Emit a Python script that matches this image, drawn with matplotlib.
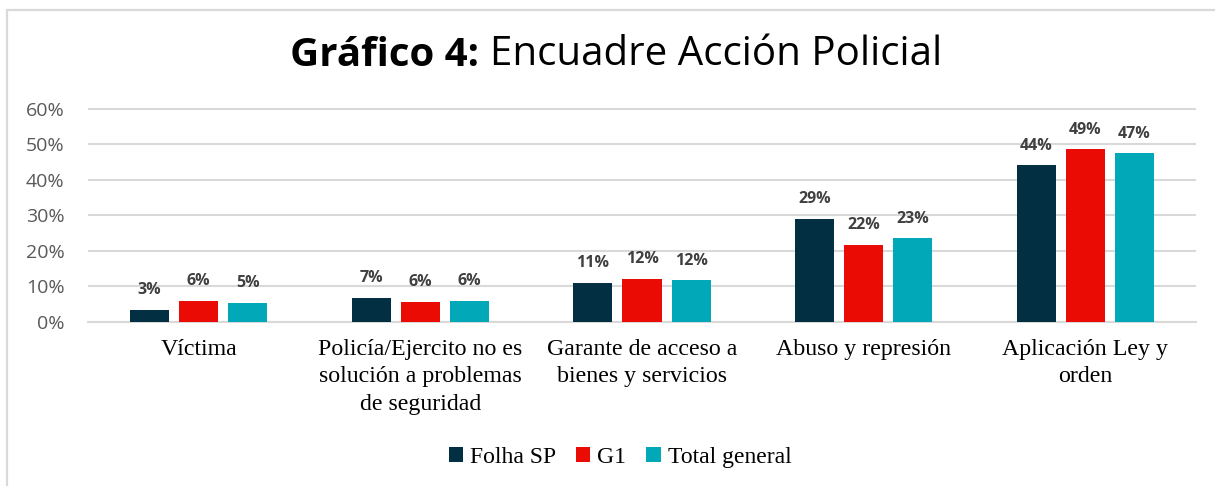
import matplotlib.pyplot as plt
import numpy as np
from matplotlib.patches import Rectangle
from matplotlib.ticker import PercentFormatter

categories = ["Víctima",
              "Policía/Ejercito no es\nsolución a problemas\nde seguridad",
              "Garante de acceso a\nbienes y servicios",
              "Abuso y represión",
              "Aplicación Ley y\norden"]
series = ["Folha SP", "G1", "Total general"]
folha = [3.4, 6.7, 10.9, 29.0, 44.0]
g1 = [6.0, 5.7, 12.0, 21.6, 48.5]
total = [5.4, 6.0, 11.7, 23.5, 47.4]
labels_folha = ["3%", "7%", "11%", "29%", "44%"]
labels_g1 = ["6%", "6%", "12%", "22%", "49%"]
labels_total = ["5%", "6%", "12%", "23%", "47%"]
colors = ["#032f43", "#e90b04", "#00a8b8"]

fig = plt.figure(figsize=(12.15, 4.86), dpi=100)
# light grey frame around the chart
fig.patches.append(Rectangle((7/1215, -0.01), 1.05, 1 - 10/486 + 0.01, transform=fig.transFigure,
                             fill=False, edgecolor="#d9d9d9", linewidth=1.6))

ax = fig.add_axes([88/1215, 1 - 322/486, 1108/1215, (322 - 108.5)/486])
x = np.arange(len(categories))
w = 0.176
off = 0.222
for i, (vals, labs) in enumerate([(folha, labels_folha), (g1, labels_g1), (total, labels_total)]):
    bars = ax.bar(x + (i - 1)*off, vals, w, color=colors[i], label=series[i], zorder=3)
    for b, lab in zip(bars, labs):
        ax.annotate(lab, (b.get_x() + b.get_width()/2, b.get_height()), xytext=(0, 8.5),
                    textcoords="offset points", ha="center", va="bottom",
                    fontsize=11.5, fontweight="bold", color="#404040", family="Open Sans")

ax.set_xlim(-0.5, 4.5)
ax.set_ylim(0, 60)
ax.set_yticks(range(0, 61, 10))
ax.yaxis.set_major_formatter(PercentFormatter(decimals=0))
ax.grid(axis="y", color="#d9d9d9", linewidth=1.5, zorder=0)
for s in ["top", "right", "left"]:
    ax.spines[s].set_visible(False)
ax.spines["bottom"].set_color("#d9d9d9")
ax.spines["bottom"].set_linewidth(1.5)
ax.tick_params(axis="both", length=0)
ax.tick_params(axis="y", pad=17, labelsize=14, labelcolor="#595959")
for t in ax.get_yticklabels():
    t.set_family("Open Sans")
ax.set_xticks(x)
ax.set_xticklabels(categories, family="Liberation Serif", fontsize=17.2, color="#000000")
for t in ax.get_xticklabels():
    t.set_linespacing(1.42)
ax.tick_params(axis="x", pad=12)

# title in two parts: bold "Gráfico 4:" + regular text, centred together
ty = 1 - 55/486
t1 = fig.text(0.5, ty, "Gráfico 4: ", fontsize=29, fontweight="bold",
              family="Open Sans", ha="right", va="center")
t2 = fig.text(0.5, ty, "Encuadre Acción Policial", fontsize=29,
              family="Open Sans", ha="left", va="center")
fig.canvas.draw()
r = fig.canvas.get_renderer()
w1 = t1.get_window_extent(r).width
w2 = t2.get_window_extent(r).width
start = 616 - (w1 + w2)/2
t1.set_position(((start + w1)/1215, ty))
t2.set_position(((start + w1)/1215, ty))

fig.legend(loc="center", bbox_to_anchor=(620/1215, 1 - 457/486), ncol=3, frameon=False,
           prop={"family": "Liberation Serif", "size": 17}, handlelength=0.6,
           handleheight=0.6, handletextpad=0.3, columnspacing=0.85)

fig.savefig("out.png", dpi=100)
